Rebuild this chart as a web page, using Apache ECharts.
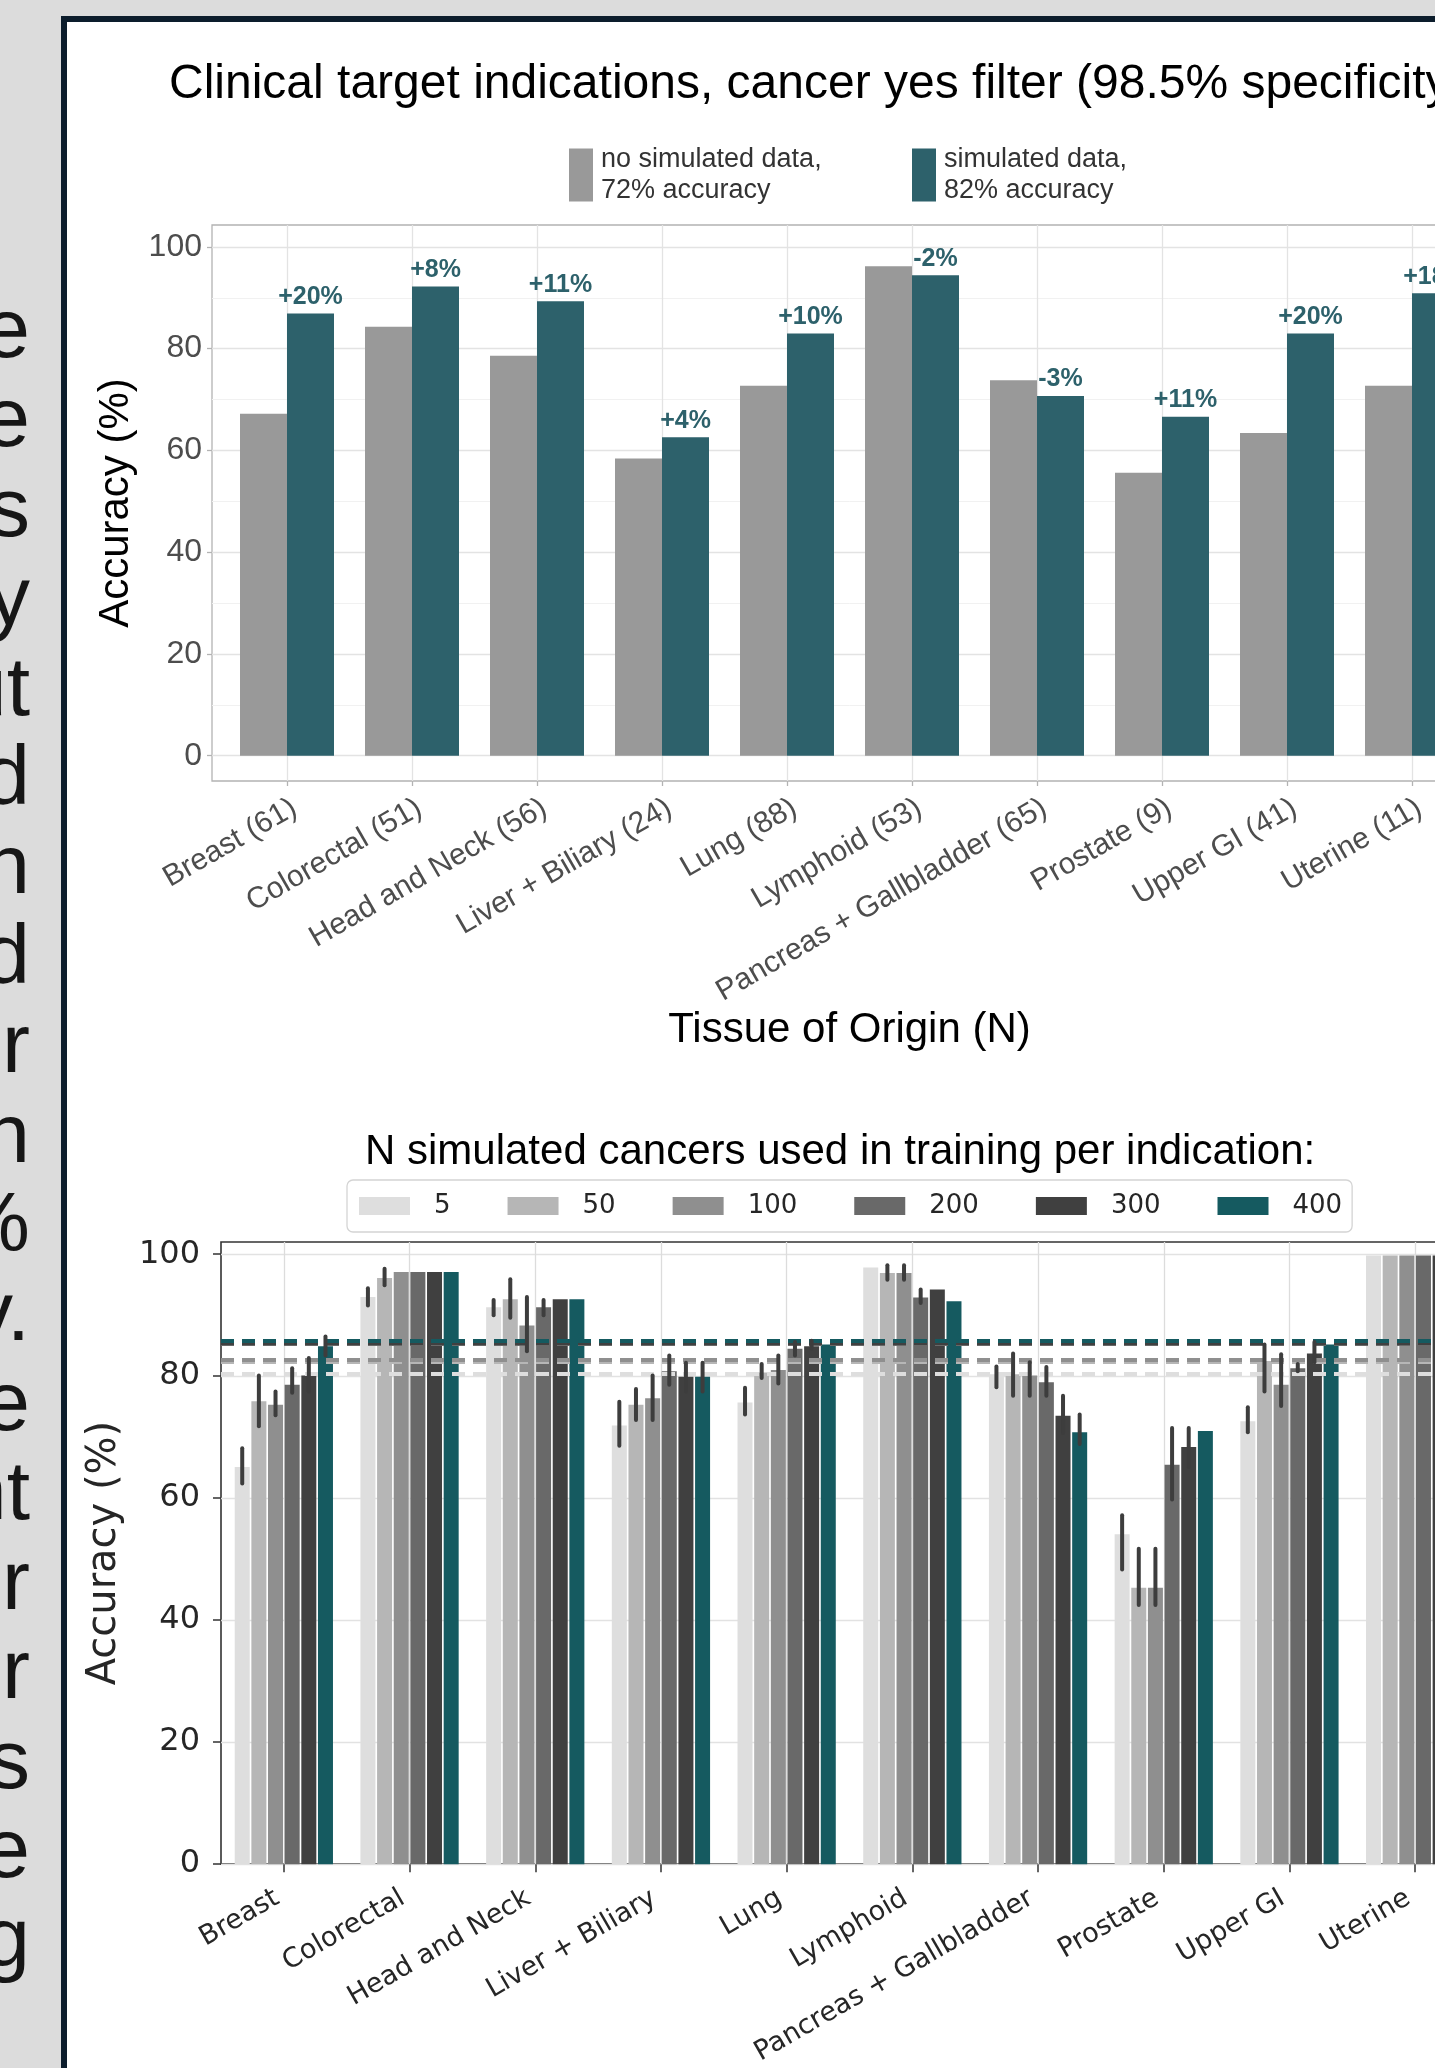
<!DOCTYPE html>
<html>
<head>
<meta charset="utf-8">
<title>Clinical target indications</title>
<script src="https://cdn.jsdelivr.net/npm/echarts@6/dist/echarts.min.js"></script>
<style>
  html, body { margin: 0; width: 1435px; height: 2068px; overflow: hidden; background: #dcdcdc; }
  #side {
    position: absolute; left: -400px; top: 284px; width: 430px;
    text-align: right; white-space: pre-line;
    font: 84px/89.4px "Liberation Sans", Arial, sans-serif; color: #161616;
  }
  #frame {
    position: absolute; left: 61px; top: 16px; width: 1600px; height: 2200px;
    background: #fff; border-left: 6px solid #0c1d2c; border-top: 6px solid #0c1d2c;
  }
  #chart { position: absolute; left: 0; top: 0; width: 1600px; height: 2068px; }
</style>
</head>
<body>
<div id="side"></div>
<div id="frame"></div>
<div id="chart"></div>
<script>
// line endings of the neighbouring poster column (only their tails are visible)
var sideText = ['e', 'e', 's', 'y', 'ut', 'd', 'n', 'd', 'r', 'n', '%', 'y.', 'e', 'nt', 'er', 'r', 's', 'e', 'g'];

// shared categories
var tissues = ['Breast', 'Colorectal', 'Head and Neck', 'Liver + Biliary', 'Lung', 'Lymphoid',
  'Pancreas + Gallbladder', 'Prostate', 'Upper GI', 'Uterine'];
var tissueN = [61, 51, 56, 24, 88, 53, 65, 9, 41, 11];

// top panel: accuracy without / with simulated data
var noSimulated = [67.2, 84.3, 78.6, 58.4, 72.7, 96.2, 73.8, 55.6, 63.4, 72.7];
var withSimulated = [86.9, 92.2, 89.3, 62.6, 83.0, 94.4, 70.7, 66.6, 83.0, 90.9];
var gainLabels = ['+20%', '+8%', '+11%', '+4%', '+10%', '-2%', '-3%', '+11%', '+20%', '+18%'];
var topTicks = [0, 20, 40, 60, 80, 100];
var topMinorTicks = [10, 30, 50, 70, 90];

// bottom panel: accuracy by number of simulated cancers
var hueNames = ['5', '50', '100', '200', '300', '400'];
var acc5 = [65.1, 93.0, 91.3, 71.9, 75.7, 97.8, 80.3, 54.1, 72.6, 99.8];
var acc50 = [75.9, 96.1, 92.6, 75.3, 80.6, 96.9, 80.3, 45.3, 82.5, 99.8];
var acc100 = [75.3, 97.1, 88.3, 76.4, 81.0, 96.9, 80.1, 45.3, 78.6, 99.8];
var acc200 = [78.6, 97.1, 91.3, 80.8, 84.5, 92.9, 79.0, 65.5, 81.3, 99.8];
var acc300 = [80.1, 97.1, 92.6, 79.9, 84.9, 94.2, 73.5, 68.4, 83.7, 99.8];
var acc400 = [84.9, 97.1, 92.6, 79.9, 85.2, 92.3, 70.8, 71.0, 85.2, 99.8];
// error bars [low, high], null where none is drawn
var err5 = [[62.4, 68.2], [91.6, 94.4], [90.0, 92.5], [68.6, 75.8], [73.7, 78.1], null, [78.2, 81.6], [48.3, 57.2], [70.8, 74.9], null];
var err50 = [[71.8, 80.1], [94.9, 97.6], [89.6, 95.9], [72.8, 77.9], [79.7, 82.0], [95.8, 98.2], [76.8, 83.7], [42.5, 51.7], [77.5, 85.2], null];
var err100 = [[73.6, 77.5], null, [84.1, 93.0], [72.8, 80.1], [78.8, 83.4], [95.8, 98.2], [76.8, 82.3], [42.5, 51.7], [75.1, 83.6], null];
var err200 = [[77.3, 81.3], null, [90.0, 92.5], [78.6, 83.4], [83.4, 85.6], [92.0, 94.2], [76.8, 81.5], [59.8, 71.5], [80.8, 82.0], null];
var err300 = [[77.5, 83.0], null, null, [77.5, 82.2], [84.5, 85.8], null, [70.7, 76.8], [65.1, 71.5], [82.3, 85.6], null];
var err400 = [[83.4, 86.5], null, null, [77.5, 82.2], null, null, [68.9, 73.7], null, null, null];
// mean accuracy per training size (dashed lines)
var hueMeans = [80.4, 82.4, 82.7, 85.3, 85.5, 85.8];
var bottomTicks = [0, 20, 40, 60, 80, 100];

var SANS = '"Liberation Sans", Arial, sans-serif';
var DJV = '"DejaVu Sans", sans-serif';
var TEAL = '#2d616b';
var hueColors = ['#dedede', '#b6b6b6', '#8f8f8f', '#696969', '#404040', '#155a60'];
var NAME_NO = 'no simulated data, 72% accuracy';
var NAME_SIM = 'simulated data, 82% accuracy';
var BAR_W = 15, BAR_GAP = 0.11;

document.getElementById('side').textContent = sideText.join('\n');

var catIdx = tissues.map(function (t, i) { return i; });
var hueAcc = [acc5, acc50, acc100, acc200, acc300, acc400];
var hueErr = [err5, err50, err100, err200, err300, err400];

var errData = [];
hueErr.forEach(function (arr, h) {
  arr.forEach(function (e, c) {
    if (e) errData.push([c, h, e[0], e[1]]);
  });
});

var bottomSeries = hueNames.map(function (name, h) {
  return {
    name: name,
    type: 'bar',
    xAxisIndex: 1,
    yAxisIndex: 2,
    barWidth: BAR_W,
    barGap: (BAR_GAP * 100) + '%',
    itemStyle: { color: hueColors[h] },
    data: hueAcc[h].map(function (v, i) { return [i, v]; }),
    markLine: {
      silent: true,
      symbol: ['none', 'none'],
      label: { show: false },
      lineStyle: { color: hueColors[h], width: 4, type: [13, 8] },
      data: [{ yAxis: hueMeans[h] }]
    }
  };
});

var chart = echarts.init(document.getElementById('chart'));
chart.setOption({
  animation: false,
  title: [
    {
      text: 'Clinical target indications, cancer yes filter (98.5% specificity)',
      left: 169, top: 61, padding: 0,
      textStyle: { fontFamily: SANS, fontSize: 48, fontWeight: 'normal', color: '#000' }
    },
    {
      text: 'N simulated cancers used in training per indication:',
      left: 365, top: 1131, padding: 0,
      textStyle: { fontFamily: SANS, fontSize: 42, fontWeight: 'normal', color: '#000' }
    }
  ],
  legend: [
    {
      data: [NAME_NO], left: 569, top: 144, padding: 0, icon: 'rect',
      itemWidth: 24, itemHeight: 53, selectedMode: false,
      formatter: function (n) { return n.replace(', ', ',\n'); },
      textStyle: { fontFamily: SANS, fontSize: 27, lineHeight: 31, color: '#333', padding: [0, 0, 0, 3] }
    },
    {
      data: [NAME_SIM], left: 912, top: 144, padding: 0, icon: 'rect',
      itemWidth: 24, itemHeight: 53, selectedMode: false,
      formatter: function (n) { return n.replace(', ', ',\n'); },
      textStyle: { fontFamily: SANS, fontSize: 27, lineHeight: 31, color: '#333', padding: [0, 0, 0, 3] }
    },
    {
      data: hueNames, left: 347, top: 1180, icon: 'rect', selectedMode: false,
      itemWidth: 51, itemHeight: 18, itemGap: 57,
      padding: [13, 10, 13, 12],
      borderColor: '#d4d4d4', borderWidth: 1.3, borderRadius: 6,
      textStyle: { fontFamily: DJV, fontSize: 26, color: '#262626', padding: [0, 0, 0, 19] }
    }
  ],
  grid: [
    { left: 212, top: 225, width: 1275, height: 556, show: true, backgroundColor: '#fff', borderColor: '#b3b3b3', borderWidth: 1.3 },
    { left: 221, top: 1242, width: 1257, height: 625, show: true, backgroundColor: '#fff', borderColor: '#333', borderWidth: 1.6 }
  ],
  xAxis: [
    {
      gridIndex: 0, type: 'value', min: -0.6, max: 9.6,
      axisLine: { show: false, onZero: false },
      axisTick: { customValues: catIdx, length: 5, lineStyle: { color: '#b3b3b3', width: 1.3 } },
      axisLabel: {
        customValues: catIdx, rotate: 30, align: 'right', verticalAlign: 'top', margin: 12,
        fontFamily: SANS, fontSize: 30, color: '#4d4d4d',
        formatter: function (v) { return tissues[v] + ' (' + tissueN[v] + ')'; }
      },
      splitLine: { show: true, lineStyle: { color: '#e3e3e3', width: 1.3 } },
      name: 'Tissue of Origin (N)', nameLocation: 'middle', nameGap: 213,
      nameTextStyle: { fontFamily: SANS, fontSize: 42, color: '#000' }
    },
    {
      gridIndex: 1, type: 'value', min: -0.5, max: 9.5,
      axisLine: { show: false, onZero: false },
      axisTick: { customValues: catIdx, length: 8, lineStyle: { color: '#333', width: 1.5 } },
      axisLabel: {
        customValues: catIdx, rotate: 30, align: 'right', verticalAlign: 'bottom', margin: 44,
        fontFamily: DJV, fontSize: 27, color: '#262626',
        formatter: function (v) { return tissues[v]; }
      },
      splitLine: { show: true, lineStyle: { color: '#dcdcdc', width: 1.3 } }
    }
  ],
  yAxis: [
    {
      gridIndex: 0, type: 'value', min: -4.97, max: 104.3,
      axisLine: { show: false, onZero: false },
      axisTick: { customValues: topTicks, length: 5, lineStyle: { color: '#b3b3b3', width: 1.3 } },
      axisLabel: { customValues: topTicks, margin: 10, fontFamily: SANS, fontSize: 32, color: '#4d4d4d' },
      splitLine: { show: true, lineStyle: { color: '#e3e3e3', width: 1.3 } },
      name: 'Accuracy (%)', nameLocation: 'middle', nameRotate: 90, nameGap: 54,
      nameTextStyle: { fontFamily: SANS, fontSize: 42, color: '#000' }
    },
    {
      gridIndex: 0, type: 'value', min: -4.97, max: 104.3, position: 'left',
      axisLine: { show: false, onZero: false },
      axisTick: { show: false, customValues: topMinorTicks },
      axisLabel: { show: false, customValues: topMinorTicks },
      splitLine: { show: true, lineStyle: { color: '#f1f1f1', width: 1 } }
    },
    {
      gridIndex: 1, type: 'value', min: 0, max: 102,
      axisLine: { show: false, onZero: false },
      axisTick: { customValues: bottomTicks, length: 8, lineStyle: { color: '#333', width: 1.5 } },
      axisLabel: { customValues: bottomTicks, margin: 21, fontFamily: DJV, fontSize: 32, color: '#262626' },
      splitLine: { show: true, lineStyle: { color: '#e2e2e2', width: 1.3 } },
      name: 'Accuracy (%)', nameLocation: 'middle', nameRotate: 90, nameGap: 96,
      nameTextStyle: { fontFamily: DJV, fontSize: 40, color: '#262626' }
    }
  ],
  series: [
    {
      name: NAME_NO, type: 'bar', xAxisIndex: 0, yAxisIndex: 0,
      barWidth: 47, barGap: '0%',
      itemStyle: { color: '#999999' },
      data: noSimulated.map(function (v, i) { return [i, v]; })
    },
    {
      name: NAME_SIM, type: 'bar', xAxisIndex: 0, yAxisIndex: 0,
      barWidth: 47, barGap: '0%',
      itemStyle: { color: TEAL },
      label: {
        show: true, position: 'top', distance: 4,
        fontFamily: SANS, fontSize: 25, fontWeight: 'bold', color: TEAL,
        formatter: function (p) { return gainLabels[p.dataIndex]; }
      },
      data: withSimulated.map(function (v, i) { return [i, v]; })
    }
  ].concat(bottomSeries).concat([
    {
      name: 'error', type: 'custom', xAxisIndex: 1, yAxisIndex: 2, z: 10, silent: true,
      dimensions: ['cat', 'hue', 'lo', 'hi'],
      encode: { x: 'cat', y: ['lo', 'hi'] },
      data: errData,
      renderItem: function (params, api) {
        var lo = api.coord([api.value(0), api.value(2)]);
        var hi = api.coord([api.value(0), api.value(3)]);
        var dx = (api.value(1) - 2.5) * BAR_W * (1 + BAR_GAP);
        return {
          type: 'line',
          shape: { x1: lo[0] + dx, y1: lo[1], x2: lo[0] + dx, y2: hi[1] },
          style: { stroke: '#3d3d3d', lineWidth: 4, lineCap: 'round' }
        };
      }
    }
  ])
});
</script>
</body>
</html>
